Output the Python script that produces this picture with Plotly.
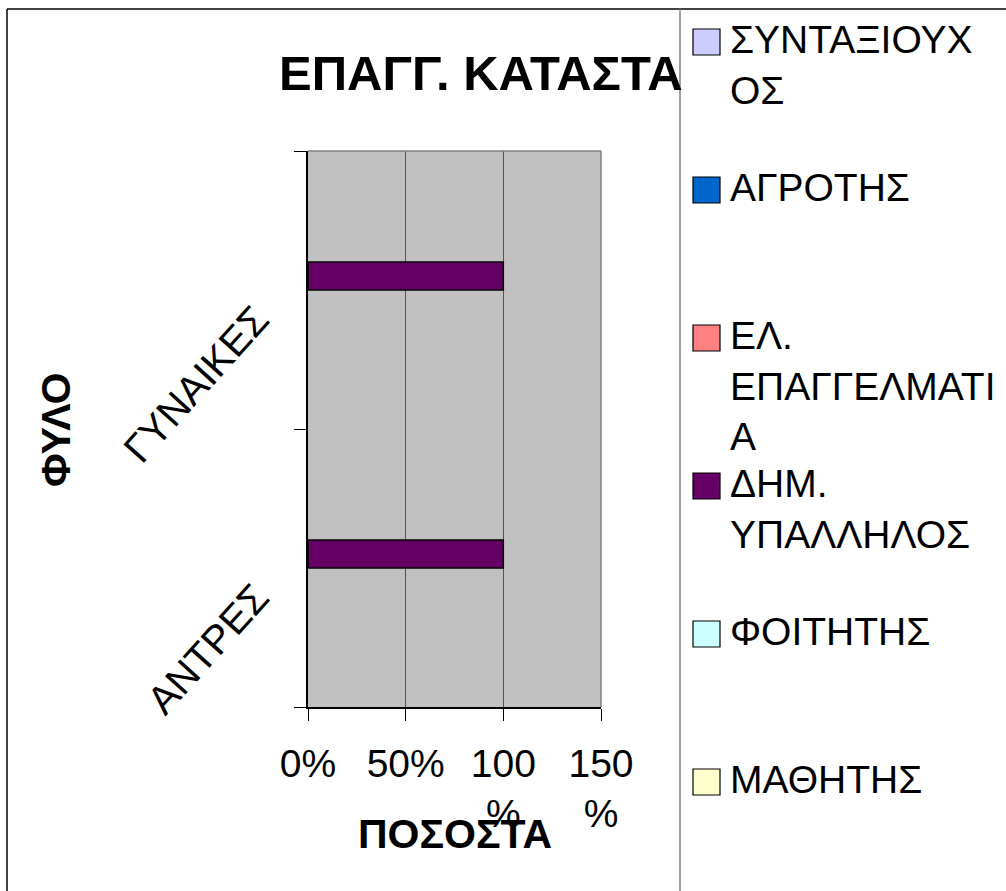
import plotly.graph_objects as go

# ---- data ----
categories = ["ΑΝΤΡΕΣ", "ΓΥΝΑΙΚΕΣ"]
series_names = ["ΣΥΝΤΑΞΙΟΥΧΟΣ", "ΑΓΡΟΤΗΣ", "ΕΛ. ΕΠΑΓΓΕΛΜΑΤΙΑ",
                "ΔΗΜ. ΥΠΑΛΛΗΛΟΣ", "ΦΟΙΤΗΤΗΣ", "ΜΑΘΗΤΗΣ"]
# share of each occupation per gender (fraction of 1)
syntaxiouchos = [0.0, 0.0]
agrotis = [0.0, 0.0]
el_epaggelmatias = [0.0, 0.0]
dim_ypallilos = [1.0, 1.0]
foititis = [0.0, 0.0]
mathitis = [0.0, 0.0]
series_values = [syntaxiouchos, agrotis, el_epaggelmatias,
                 dim_ypallilos, foititis, mathitis]
x_tickvals = [0, 0.5, 1.0, 1.5]
x_ticktext = ["0%", "50%", "100<br>%", "150<br>%"]
# legend labels as they wrap in the narrow legend column
legend_labels = ["ΣΥΝΤΑΞΙΟΥΧ<br>ΟΣ", "ΑΓΡΟΤΗΣ", "ΕΛ.<br>ΕΠΑΓΓΕΛΜΑΤΙ<br>Α",
                 "ΔΗΜ.<br>ΥΠΑΛΛΗΛΟΣ", "ΦΟΙΤΗΤΗΣ", "ΜΑΘΗΤΗΣ"]

# ---- styling ----
colors = ["#CCCCFF", "#0066CC", "#FF8080", "#660066", "#CCFFFF", "#FFFFCC"]
FONT = "Liberation Sans, Arial, sans-serif"
FS = 39

W, H = 1006, 891
PL, PR, PT, PB = 308, 601, 151, 707   # plot-area edges in pixels


def px(x):
    return (x - PL) / (PR - PL)


def py(y):
    return (PB - y) / (PB - PT)


fig = go.Figure()
for name, vals, col in zip(series_names, series_values, colors):
    fig.add_trace(go.Bar(
        y=categories, x=vals, name=name, orientation="h",
        marker=dict(color=col,
                    line=dict(color="black",
                              width=[1.5 if v > 0 else 0 for v in vals])),
        showlegend=False,
    ))

shapes = []
# outer chart frame (top and left) and legend divider
shapes.append(dict(type="line", xref="paper", yref="paper",
                   x0=px(7), x1=px(W + 5), y0=py(9), y1=py(9),
                   line=dict(color="black", width=1.5)))
shapes.append(dict(type="line", xref="paper", yref="paper",
                   x0=px(7), x1=px(7), y0=py(9), y1=py(H + 5),
                   line=dict(color="black", width=1.5)))
shapes.append(dict(type="line", xref="paper", yref="paper",
                   x0=px(680), x1=px(680), y0=py(9), y1=py(H + 5),
                   line=dict(color="#808080", width=1.5)))
# plot-area border on the top and right
shapes.append(dict(type="line", xref="paper", yref="paper",
                   x0=0, x1=1, y0=1, y1=1,
                   line=dict(color="#808080", width=1.5), layer="above"))
shapes.append(dict(type="line", xref="paper", yref="paper",
                   x0=1, x1=1, y0=0, y1=1,
                   line=dict(color="#808080", width=1.5), layer="above"))

annotations = []
# legend: swatch + wrapped label, one entry every 148 px
for i, (lab, col) in enumerate(zip(legend_labels, colors)):
    cy = 42 + 148 * i
    shapes.append(dict(type="rect", xref="paper", yref="paper",
                       x0=px(693), x1=px(720), y0=py(cy - 13), y1=py(cy + 13),
                       fillcolor=col, line=dict(color="black", width=1.2)))
    annotations.append(dict(text=lab, xref="paper", yref="paper",
                            x=px(728), y=py(cy - 26), xanchor="left",
                            yanchor="top", showarrow=False, align="left",
                            font=dict(family=FONT, size=FS, color="black")))

# axis titles
annotations.append(dict(text="<b>ΠΟΣΟΣΤΑ</b>", xref="paper", yref="paper",
                        x=px(455), y=py(834), xanchor="center",
                        yanchor="middle", showarrow=False,
                        font=dict(family=FONT, size=41, color="black")))
annotations.append(dict(text="<b>ΦΥΛΟ</b>", xref="paper", yref="paper",
                        x=px(56), y=py(430), xanchor="center",
                        yanchor="middle", showarrow=False, textangle=-90,
                        font=dict(family=FONT, size=41, color="black")))

fig.update_layout(
    width=W, height=H, autosize=False,
    margin=dict(l=PL, r=W - PR, t=PT, b=H - PB, pad=0),
    paper_bgcolor="white", plot_bgcolor="#C0C0C0",
    barmode="group", bargap=0.395, bargroupgap=0,
    showlegend=False,
    title=dict(text="<b>ΕΠΑΓΓ. ΚΑΤΑΣΤΑ</b>", xref="container", yref="container",
               x=279 / W, xanchor="left", y=1 - 73 / H, yanchor="middle",
               font=dict(family=FONT, size=49, color="black")),
    font=dict(family=FONT, size=FS, color="black"),
    shapes=shapes, annotations=annotations,
)
fig.update_xaxes(
    range=[0, 1.5], tickvals=x_tickvals, ticktext=x_ticktext,
    showgrid=True, gridcolor="#555555", gridwidth=1,
    showline=True, linecolor="black", linewidth=1.5,
    ticks="outside", ticklen=12, tickcolor="black", tickwidth=1,
    ticklabelstandoff=9,
    tickfont=dict(family=FONT, size=FS, color="black"),
    zeroline=False, automargin=False, fixedrange=True,
)
fig.update_yaxes(
    range=[-0.5, 1.5], showgrid=False,
    showline=True, linecolor="black", linewidth=1.5,
    ticks="outside", ticklen=12, tickcolor="black", tickwidth=1,
    tickson="boundaries", tickangle=-48,
    ticklabelstandoff=42, ticklabelshift=24,
    tickfont=dict(family=FONT, size=40, color="black"),
    automargin=False, fixedrange=True,
)

fig.write_html("out.html")
